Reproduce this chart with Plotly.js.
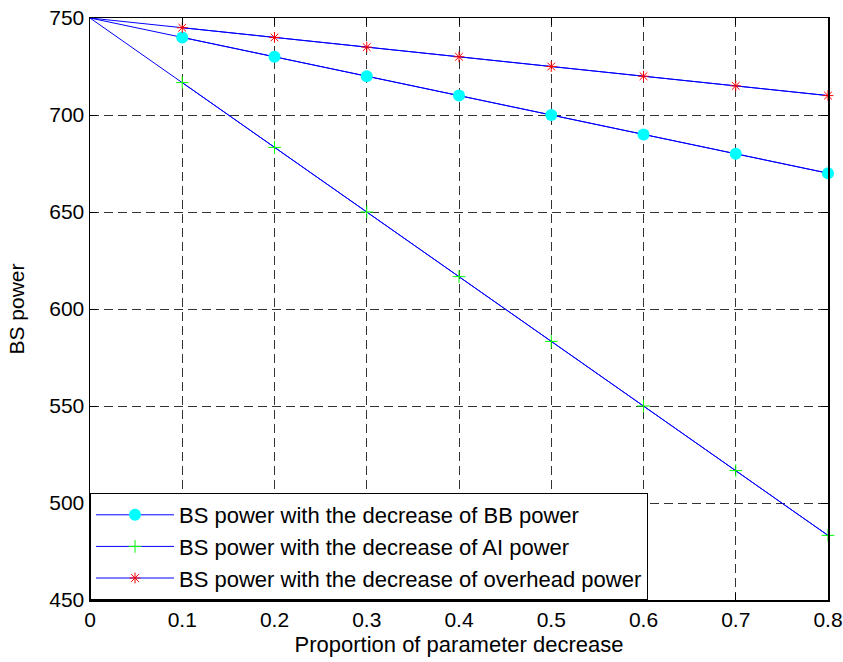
<!DOCTYPE html>
<html>
<head>
<meta charset="utf-8">
<script src="https://cdn.plot.ly/plotly-3.0.1.min.js"></script>
<style>html,body{margin:0;padding:0;background:#fff;}#chart{width:843px;height:662px;}</style>
</head>
<body>
<div id="chart"></div>
<script>
// Data
var proportion = [0, 0.1, 0.2, 0.3, 0.4, 0.5, 0.6, 0.7, 0.8];
var bbPower = [750, 740, 730, 720, 710, 700, 690, 680, 670];
var aiPower = [750, 716.7, 683.3, 650, 616.7, 583.3, 550, 516.7, 483.3];
var overheadPower = [750, 745, 740, 735, 730, 725, 720, 715, 710];
var seriesNames = [
  'BS power with the decrease of BB power',
  'BS power with the decrease of AI power',
  'BS power with the decrease of overhead power'
];
var xTickVals = [0, 0.1, 0.2, 0.3, 0.4, 0.5, 0.6, 0.7, 0.8];
var xTickText = ['0', '0.1', '0.2', '0.3', '0.4', '0.5', '0.6', '0.7', '0.8'];
var yTickVals = [450, 500, 550, 600, 650, 700, 750];

var FONT = 'Liberation Sans, Arial, Helvetica, sans-serif';
var series = [bbPower, aiPower, overheadPower];
var markers = [
  {symbol: 'circle', size: 12, color: '#00ffff', line: {width: 0}},
  {symbol: 'cross-thin-open', size: 9, color: '#00ff00', line: {width: 1, color: '#00ff00'}},
  {symbol: 'asterisk-open', size: 9, color: '#ff0000', line: {width: 1, color: '#ff0000'}}
];

var traces = [];
series.forEach(function (ys, i) {
  // full line (no markers at x = 0)
  traces.push({
    x: proportion, y: ys, type: 'scatter', mode: 'lines',
    line: {color: '#0000ff', width: 1}, showlegend: false, hoverinfo: 'skip',
    legendgroup: 'g' + i
  });
  traces.push({
    x: proportion.slice(1), y: ys.slice(1), type: 'scatter', mode: 'lines+markers',
    name: seriesNames[i], line: {color: '#0000ff', width: 1}, marker: markers[i],
    legendgroup: 'g' + i, cliponaxis: false
  });
});

var axisCommon = {
  showline: true, linecolor: '#000', linewidth: 1.5, mirror: 'ticks',
  ticks: 'inside', ticklen: 7, tickcolor: '#000', tickwidth: 1,
  showgrid: true, gridcolor: '#333', gridwidth: 1, griddash: '9px,5px',
  zeroline: false, tickfont: {family: FONT, size: 21, color: '#000'}
};

var layout = {
  width: 843, height: 662,
  margin: {l: 90, r: 15, t: 18, b: 62},
  paper_bgcolor: '#fff', plot_bgcolor: '#fff',
  font: {family: FONT, size: 21, color: '#000'},
  xaxis: Object.assign({}, axisCommon, {
    range: [0, 0.8], tickvals: xTickVals, ticktext: xTickText,
    title: {text: 'Proportion of parameter decrease', font: {family: FONT, size: 22, color: '#000'}, standoff: 7}
  }),
  yaxis: Object.assign({}, axisCommon, {
    range: [450, 750], tickvals: yTickVals,
    title: {text: 'BS power', font: {family: FONT, size: 21, color: '#000'}, standoff: 19}
  }),
  legend: {
    x: 0, y: 0, xanchor: 'left', yanchor: 'bottom',
    bgcolor: '#fff', bordercolor: '#000', borderwidth: 1,
    font: {family: FONT, size: 22, color: '#000'},
    traceorder: 'grouped', tracegroupgap: 0, itemwidth: 78
  },
  showlegend: true
};

Plotly.newPlot('chart', traces, layout, {displayModeBar: false, staticPlot: true});
</script>
</body>
</html>
